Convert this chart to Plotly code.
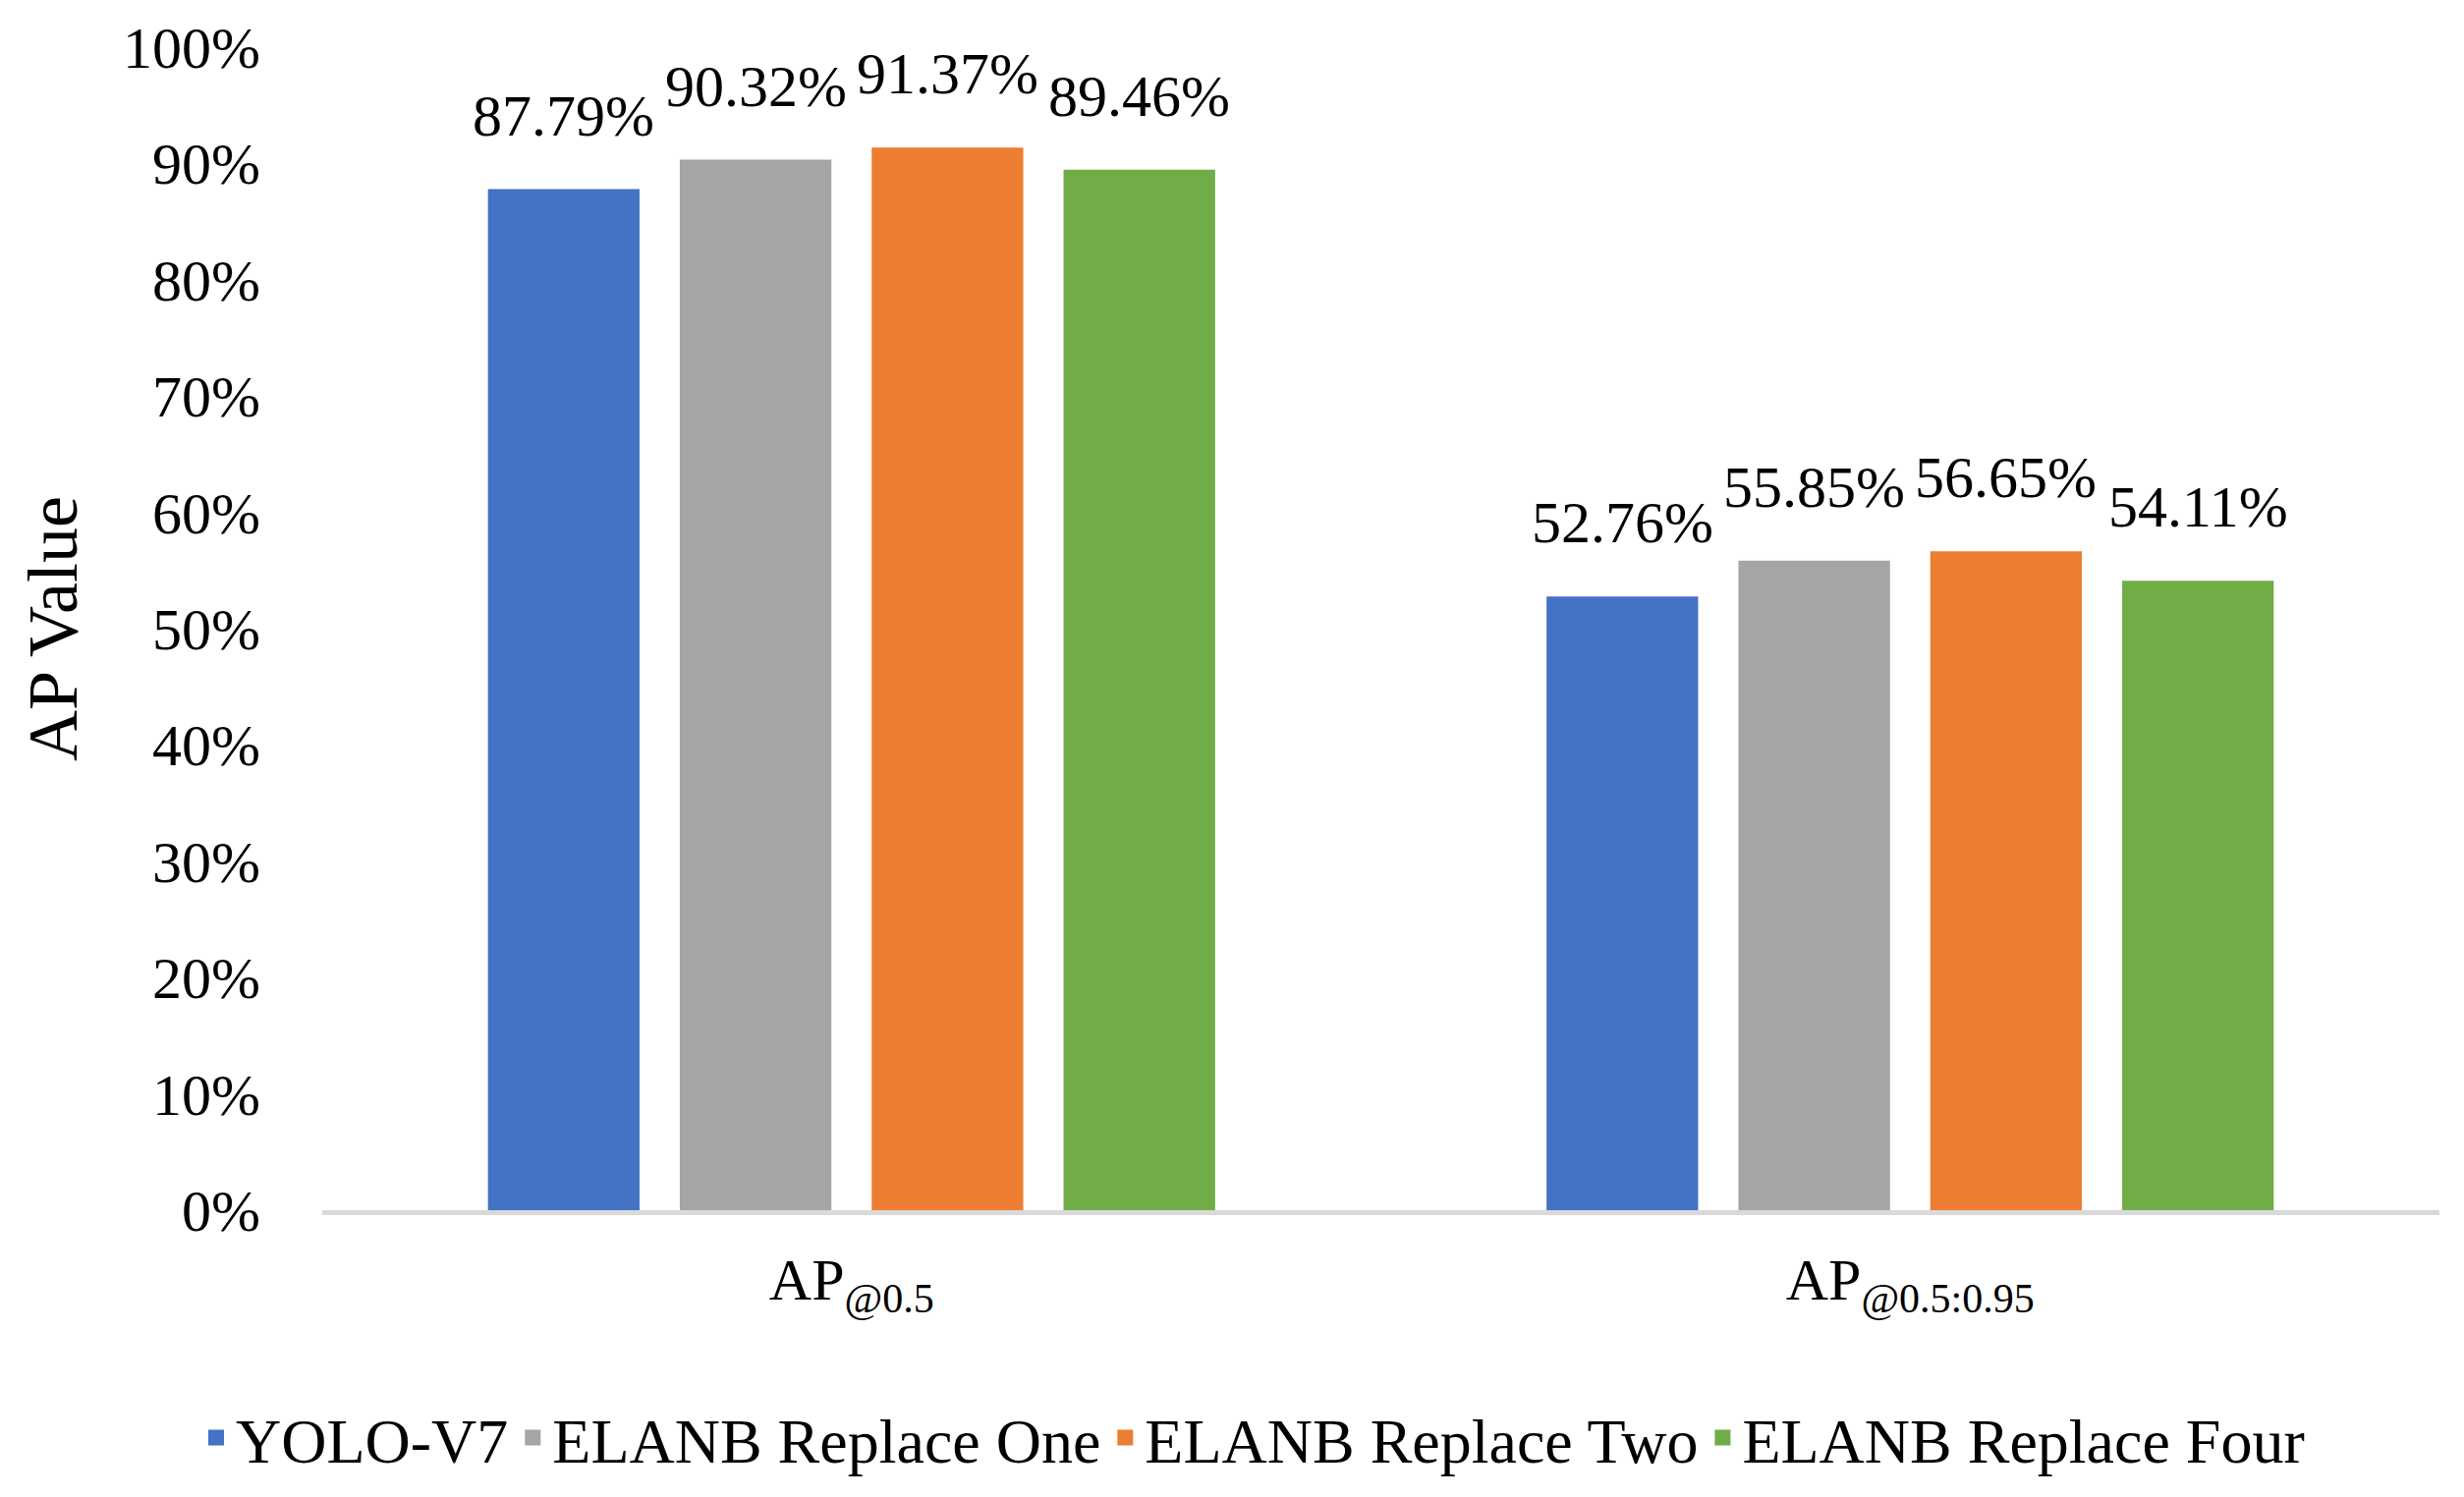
import plotly.graph_objects as go

categories = ["AP<sub>@0.5</sub>", "AP<sub>@0.5:0.95</sub>"]
series_names = ["YOLO-V7", "ELANB Replace One", "ELANB Replace Two", "ELANB Replace Four"]
yolo_v7 = [87.79, 52.76]
replace_one = [90.32, 55.85]
replace_two = [91.37, 56.65]
replace_four = [89.46, 54.11]
series_values = [yolo_v7, replace_one, replace_two, replace_four]
colors = ["#4472C4", "#A5A5A5", "#ED7D31", "#70AD47"]
y_ticks = list(range(0, 101, 10))
y_tick_labels = [f"{t}%" for t in y_ticks]

FONT = "Liberation Serif"
# page body has an 8px margin, so the figure is slightly smaller than the window
W, H = 2500, 1516
ML, MR, MT, MB = 320, 25, 40, 292
BARGAP = 0.275
GROUPGAP = 0.21

fig = go.Figure()
for name, vals, col in zip(series_names, series_values, colors):
    fig.add_trace(go.Bar(
        x=categories, y=vals, name=name, showlegend=False,
        marker=dict(color=col, line=dict(width=0)),
    ))
# legend-only entries with larger square symbols
for name, col in zip(series_names, colors):
    fig.add_trace(go.Scatter(
        x=[None], y=[None], mode="markers", name=name,
        marker=dict(symbol="square", color=col, size=30),
        showlegend=True, hoverinfo="skip",
    ))

# data labels above bars
pw = W - ML - MR
cat_w = pw / len(categories)
slot = cat_w * (1 - BARGAP) / len(series_names)
for i, vals in enumerate(series_values):
    shift = (i - (len(series_names) - 1) / 2) * slot
    for c, v in zip(categories, vals):
        fig.add_annotation(
            x=c, y=v, xref="x", yref="y", text=f"{v:.2f}%",
            showarrow=False, xshift=shift, yshift=40, yanchor="bottom",
            font=dict(family=FONT, size=60, color="#000000"),
        )

fig.update_layout(
    width=W, height=H,
    margin=dict(l=ML, r=MR, t=MT, b=MB, autoexpand=False),
    paper_bgcolor="white", plot_bgcolor="white",
    barmode="group", bargap=BARGAP, bargroupgap=GROUPGAP,
    font=dict(family=FONT, size=60, color="#000000"),
    showlegend=True,
    legend=dict(
        orientation="h", xref="container", yref="container",
        x=0.507, xanchor="center", y=0.0396, yanchor="middle",
        font=dict(family=FONT, size=64, color="#000000"),
        traceorder="normal", itemsizing="trace",
    ),
    xaxis=dict(
        showline=True, linecolor="#D9D9D9", linewidth=5,
        showgrid=False, ticks="", tickfont=dict(size=60),
        ticklabelstandoff=14,
    ),
    yaxis=dict(
        range=[0, 100], tickvals=y_ticks, ticktext=y_tick_labels,
        showgrid=False, showline=False, zeroline=False, ticks="",
        tickfont=dict(size=60), ticklabelstandoff=62,
        title=dict(text="AP Value", font=dict(size=72), standoff=22),
    ),
)

fig.write_html("out.html")
